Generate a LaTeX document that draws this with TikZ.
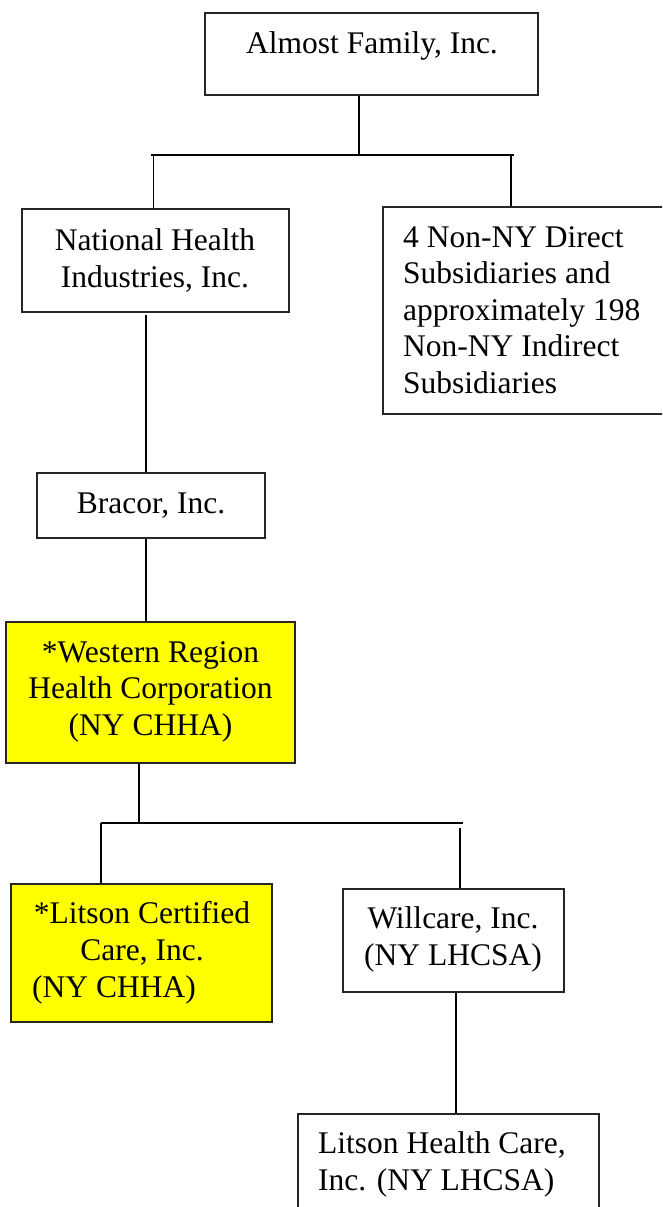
\documentclass[tikz,border=0pt]{standalone}
\usepackage{fontspec}
\setmainfont{Liberation Serif}
\definecolor{ylw}{RGB}{255,255,0}
\begin{document}
\begin{tikzpicture}[x=1pt,y=-1pt,
  box/.style={draw=black!85, line width=1.3pt, rectangle, inner sep=0pt},
  ybox/.style={box, fill=ylw},
  txt/.style={font=\fontsize{31.5}{36.5}\selectfont, anchor=base, inner sep=0pt},
  ltxt/.style={txt, anchor=base west},
  conn/.style={draw=black, line width=1.3pt}
]
\useasboundingbox (0,0) rectangle (662,1207);
\fill[white] (0,0) rectangle (662,1207);
\clip (0,0) rectangle (662,1207);

% boxes
\node[box, minimum width=333pt, minimum height=82pt] (A) at (371.5,54) {};
\node[box, minimum width=267pt, minimum height=103pt] (N) at (155.5,260.5) {};
\node[box, minimum width=289pt, minimum height=207pt] (R) at (527.5,310.5) {};
\node[box, minimum width=228pt, minimum height=65pt] (B) at (151,505.5) {};
\node[ybox, minimum width=289pt, minimum height=141pt] (W) at (150.5,692.5) {};
\node[ybox, minimum width=261pt, minimum height=138pt] (L) at (141.5,953) {};
\node[box, minimum width=221pt, minimum height=103pt] (C) at (453.5,940.5) {};
\node[box, minimum width=301pt, minimum height=126pt] (H) at (448.5,1177) {};

% texts
\node[txt] (At) at (372,53) {Almost Family, Inc.};
\node[txt] (Nt1) at (155,250) {National Health};
\node[txt] (Nt2) at (155,287) {Industries, Inc.};
\node[ltxt] (Rt1) at (403,247) {4 Non-NY Direct};
\node[ltxt] (Rt2) at (403,283.5) {Subsidiaries and};
\node[ltxt] (Rt3) at (403,320) {approximately 198};
\node[ltxt] (Rt4) at (403,356.5) {Non-NY Indirect};
\node[ltxt] (Rt5) at (403,393) {Subsidiaries};
\node[txt] (Bt) at (151,513) {Bracor, Inc.};
\node[txt] (Wt1) at (150.5,662) {*Western Region};
\node[txt] (Wt2) at (150.5,698.5) {Health Corporation};
\node[txt] (Wt3) at (150.5,735) {(NY CHHA)};
\node[txt] (Lt1) at (142,923) {*Litson Certified};
\node[txt] (Lt2) at (142,960) {Care, Inc.};
\node[ltxt] (Lt3) at (32,997) {(NY CHHA)};
\node[txt] (Ct1) at (453,928) {Willcare, Inc.};
\node[txt] (Ct2) at (453,965) {(NY LHCSA)};
\node[ltxt] (Ht1) at (318,1153) {Litson Health Care,};
\node[ltxt] (Ht2) at (318,1190) {Inc. (NY LHCSA)};

% connector points
\coordinate (j1) at (359,155);
\coordinate (b1l) at (151,155);
\coordinate (b1r) at (514,155);
\coordinate (n1) at (153.5,155);
\coordinate (r1) at (511,155);
\coordinate (m1) at (146,315);
\coordinate (m2) at (146,538);
\coordinate (j2) at (139,823);
\coordinate (b2l) at (101,823);
\coordinate (b2r) at (463,823);
\coordinate (c1) at (460,828);
\coordinate (h1) at (456,992);

% connectors
\draw[conn] (A.south -| j1) -- (j1);
\draw[conn] (b1l) -- (b1r);
\draw[conn] (n1) -- (n1 |- N.north);
\draw[conn] (r1) -- (r1 |- R.north);
\draw[conn] (m1) -- (m1 |- B.north);
\draw[conn] (B.south -| m2) -- (m2 |- W.north);
\draw[conn] (W.south -| j2) -- (j2);
\draw[conn] (b2l) -- (b2r);
\draw[conn] (b2l) -- (b2l |- L.north);
\draw[conn] (c1) -- (c1 |- C.north);
\draw[conn] (C.south -| h1) -- (h1 |- H.north);
\end{tikzpicture}
\end{document}
